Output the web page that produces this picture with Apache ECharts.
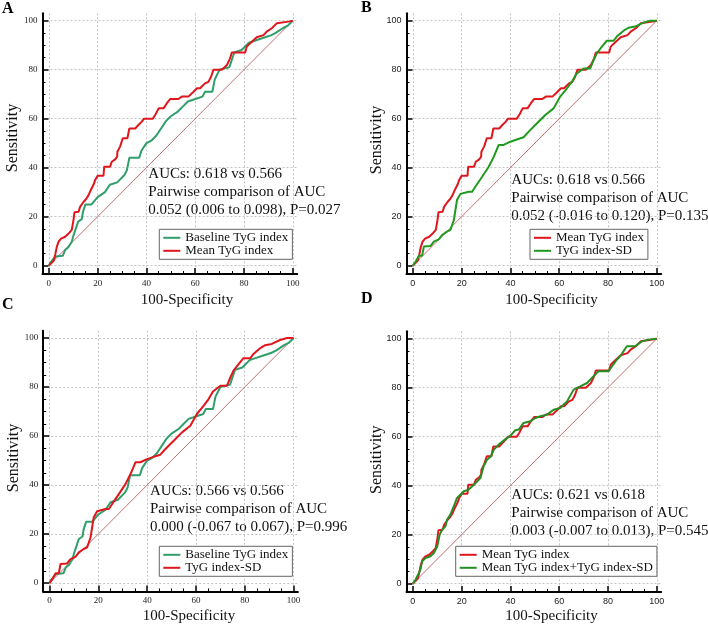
<!DOCTYPE html>
<html>
<head>
<meta charset="utf-8">
<script src="https://cdn.jsdelivr.net/npm/echarts@6/dist/echarts.min.js"></script>
<style>
  html, body { margin: 0; padding: 0; background: #fff; }
  #chart { width: 708px; height: 626px; }
</style>
</head>
<body>
<div id="chart"></div>
<script>
// ROC curves, [100-Specificity, Sensitivity]
var meanTyG = [[0,0],[2,2],[2.6,4.4],[3.3,7.8],[4,9.8],[5,11],[6.7,11.8],[8,13],[9.4,14.6],[10.1,18.6],[10.5,21.8],[12.2,22],[12.8,24],[14.2,26],[15.3,27.2],[16.3,28.8],[17.2,30.9],[18.3,33],[19,35],[20,36.7],[22.4,36.7],[22.7,40.4],[25.1,40.4],[25.8,42.4],[27.2,43.4],[28,44.5],[28.1,46.5],[29.2,48.6],[30.3,52],[32.2,52],[33,56],[35.4,56],[36.7,57.4],[38.1,58.8],[39,60],[42.6,60],[43.6,61.5],[45,64.2],[47,64.2],[48.4,66.3],[49.7,68],[53.1,68],[54.5,69],[57.2,69],[59.3,71],[60.7,72.4],[62,72.4],[64,74.4],[65.4,75],[66.5,77.1],[67.5,80],[70.9,80],[73,81.9],[74.3,84.6],[75,87],[80.5,87],[81.1,89.4],[83.2,91.4],[85.2,93.2],[88,94.1],[89.3,95.5],[91.4,96.9],[93.4,98.9],[98.2,99.6],[100,100]];
var baselineTyG = [[0,0],[0.5,1],[1.2,1.6],[2.6,3.7],[5.7,4],[6.7,6.4],[8,7.5],[9.4,9.8],[10,12],[12,18],[13.5,19],[14,22],[15,25],[17.5,25],[20,28],[23,30],[25,33],[28,34],[31,37],[32,39],[33,44],[37,44],[38,47],[40,50],[42,51],[44,53],[46,56],[48,59],[50,61],[53,63],[55,65],[57,67],[60,68],[63,69],[64,71],[67,71],[68,76],[70,80],[74,81],[76,87],[79,88],[82,91],[85,92],[88,93],[91,94],[93,95],[96,97],[98,98],[100,100]];
var tygSD = [[0,0],[1.1,1.6],[1.8,2.3],[2.5,4],[3.8,4],[4.5,7.8],[7.2,8],[8.6,9.8],[10.6,10.7],[12,12.5],[14,13.9],[15.4,14.6],[16.8,18.6],[18.1,26.8],[19.5,29.3],[22.9,30.2],[24.3,30.2],[25.6,32.2],[28.4,36.3],[31.1,40.4],[33.2,44.5],[35.2,49.3],[37.2,49.3],[40,50.6],[42,51.3],[45.4,52.4],[47.5,54.7],[50.9,58.1],[54.3,61.5],[57.7,64.2],[60.4,69],[63.2,72.4],[65.2,75.1],[67,78.2],[70,80.5],[72.7,80.5],[74.1,83.9],[75.4,86.7],[77.5,89.4],[79.5,91.8],[82.3,91.8],[83.6,93.5],[86.4,95.9],[88.4,97.1],[91.1,97.6],[94.5,99.2],[97.3,100],[100,100]];
var meanPlusSD = [[0,0],[1.1,1.6],[1.8,3],[3.1,5.7],[3.8,9.1],[5.2,10.5],[7.2,11.2],[8.6,12.5],[10,15.2],[11,20],[12,22],[13.4,23.4],[14,26.1],[15.4,28.2],[16.8,31.6],[18.1,35],[19.5,36.3],[20.9,37.7],[22.9,38.4],[25,40.4],[27.7,43.1],[29,47.9],[30.4,50.6],[32,52],[33.2,54.7],[35.9,57.4],[38,59],[40,60.4],[42,62.6],[43.4,62.9],[45.4,65.6],[48.2,66.3],[50.2,67.6],[52.3,68.3],[55,69],[57.7,71],[60.4,71.7],[63.2,74.4],[65.9,79.2],[68.6,80.5],[71.4,81.9],[74,84.6],[76.1,86.7],[80.2,86.7],[81.6,88.7],[83.6,91.4],[85,92.8],[87.7,96.9],[91.1,96.9],[93.9,98.9],[96.6,99.6],[100,100]];
var diagonal = [[0,0],[100,100]];

var majorTicks = [0, 20, 40, 60, 80, 100];
var minorTicks = [5, 10, 15, 25, 30, 35, 45, 50, 55, 65, 70, 75, 85, 90, 95];

var aucTextA = ['AUCs: 0.618 vs 0.566', 'Pairwise comparison of AUC', '0.052 (0.006 to 0.098), P=0.027'];
var aucTextB = ['AUCs: 0.618 vs 0.566', 'Pairwise comparison of AUC', '0.052 (-0.016 to 0.120), P=0.135'];
var aucTextC = ['AUCs: 0.566 vs 0.566', 'Pairwise comparison of AUC', '0.000 (-0.067 to 0.067), P=0.996'];
var aucTextD = ['AUCs: 0.621 vs 0.618', 'Pairwise comparison of AUC', '0.003 (-0.007 to 0.013), P=0.545'];

var SERIF = "'Liberation Serif', 'DejaVu Serif', serif";
var SANS = "'Liberation Sans', Arial, sans-serif";
var RED = '#e0161d';
var TEAL = '#2f9e6a';
var GREEN = '#1f9a1f';
var DKGREEN = '#248f24';

var GW = 254.7, GH = 260.7;

var panels = [
    {letter: 'A', left: 42.5, top: 13.3, tickFont: SERIF, text: aucTextA, textPos: [148.3, 174.5],
        legendPos: [159.3, 229.3], letterPos: [2, 8.5], yTitle: [12.3, 138], xTitle: [187, 300],
        curves: [{name: 'Baseline TyG index', data: baselineTyG, color: TEAL},
                 {name: 'Mean TyG index', data: meanTyG, color: RED}]},
    {letter: 'B', left: 406.5, top: 13.3, tickFont: SANS, text: aucTextB, textPos: [511.3, 180.5],
        legendPos: [530, 229.3], letterPos: [361, 8], yTitle: [376.3, 140], xTitle: [551.5, 300],
        curves: [{name: 'Mean TyG index', data: meanTyG, color: RED},
                 {name: 'TyG index-SD', data: tygSD, color: GREEN}]},
    {letter: 'C', left: 43.2, top: 330.7, tickFont: SERIF, text: aucTextC, textPos: [150, 491.5],
        legendPos: [159.3, 546.3], letterPos: [2, 305], yTitle: [13.3, 458], xTitle: [189, 616],
        curves: [{name: 'Baseline TyG index', data: baselineTyG, color: TEAL},
                 {name: 'TyG index-SD', data: tygSD, color: RED}]},
    {letter: 'D', left: 406.5, top: 331.3, tickFont: SANS, text: aucTextD, textPos: [511.3, 495],
        legendPos: [455.7, 546.3], letterPos: [361, 299], yTitle: [376.3, 459.7], xTitle: [551.5, 616],
        curves: [{name: 'Mean TyG index', data: meanTyG, color: RED},
                 {name: 'Mean TyG index+TyG index-SD', data: meanPlusSD, color: DKGREEN}]}
];

function mainAxis(idx, p, isX) {
    return {
        gridIndex: idx, type: 'value',
        min: isX ? -2.6 : -3.4, max: isX ? 101.8 : 103,
        axisLine: {show: true, onZero: false, lineStyle: {color: '#000', width: 2}},
        axisTick: {show: true, inside: true, length: 6, customValues: majorTicks, lineStyle: {color: '#000', width: 1.5}},
        axisLabel: {customValues: majorTicks, margin: 5, fontSize: 9, fontFamily: p.tickFont, color: '#222'},
        splitLine: {show: true, lineStyle: {color: '#c4c4c4', width: 1, type: [2, 2]}}
    };
}

function minorAxis(idx, isX) {
    return {
        gridIndex: idx, type: 'value',
        min: isX ? -2.6 : -3.4, max: isX ? 101.8 : 103,
        axisLine: {show: false, onZero: false},
        axisTick: {show: true, inside: true, length: 3, customValues: minorTicks, lineStyle: {color: '#000', width: 1}},
        axisLabel: {show: false},
        splitLine: {show: false}
    };
}

var grids = [], xAxes = [], yAxes = [], series = [], legends = [], graphics = [];

panels.forEach(function (p, i) {
    grids.push({left: p.left, top: p.top, width: GW, height: GH});
    xAxes.push(mainAxis(i, p, true));
    yAxes.push(mainAxis(i, p, false));
});
// second set of grids for the small ticks
panels.forEach(function (p, i) {
    grids.push({left: p.left, top: p.top, width: GW, height: GH});
    xAxes.push(minorAxis(i + 4, true));
    yAxes.push(minorAxis(i + 4, false));
});

panels.forEach(function (p, i) {
    series.push({
        type: 'line', xAxisIndex: i, yAxisIndex: i, data: diagonal, symbol: 'none', silent: true,
        lineStyle: {color: '#c46e6e', width: 1}, z: 1
    });
    p.curves.forEach(function (c) {
        series.push({
            name: c.name, type: 'line', xAxisIndex: i, yAxisIndex: i, data: c.data,
            symbol: 'none', silent: true, color: c.color,
            lineStyle: {color: c.color, width: 2}
        });
    });

    legends.push({
        orient: 'vertical', left: p.legendPos[0], top: p.legendPos[1],
        padding: [2, 4, 2, 4], itemGap: 0, itemWidth: 17, itemHeight: 2, icon: 'rect',
        borderColor: '#666', borderWidth: 1, backgroundColor: '#fff', selectedMode: false,
        textStyle: {fontFamily: SERIF, fontSize: 13, lineHeight: 12, color: '#111'},
        data: p.curves.map(function (c) {
            return {name: c.name, itemStyle: {color: c.color}};
        })
    });

    p.text.forEach(function (line, k) {
        graphics.push({
            type: 'text', x: p.textPos[0], y: p.textPos[1] + k * 18,
            style: {text: line, fontFamily: SERIF, fontSize: 15, fill: '#111', align: 'left', verticalAlign: 'middle'}
        });
    });

    graphics.push({
        type: 'text', x: p.letterPos[0], y: p.letterPos[1],
        style: {text: p.letter, fontFamily: SERIF, fontSize: 16, fontWeight: 'bold', fill: '#000', align: 'left', verticalAlign: 'middle'}
    });
    graphics.push({
        type: 'text', x: p.yTitle[0], y: p.yTitle[1], rotation: Math.PI / 2,
        style: {text: 'Sensitivity', fontFamily: SERIF, fontSize: 16, fill: '#111', align: 'center', verticalAlign: 'middle'}
    });
    graphics.push({
        type: 'text', x: p.xTitle[0], y: p.xTitle[1],
        style: {text: '100-Specificity', fontFamily: SERIF, fontSize: 15, fill: '#111', align: 'center', verticalAlign: 'middle'}
    });
});

var chart = echarts.init(document.getElementById('chart'), null, {renderer: 'canvas'});
chart.setOption({
    backgroundColor: '#fff',
    animation: false,
    grid: grids,
    xAxis: xAxes,
    yAxis: yAxes,
    legend: legends,
    series: series,
    graphic: graphics
});
</script>
</body>
</html>
